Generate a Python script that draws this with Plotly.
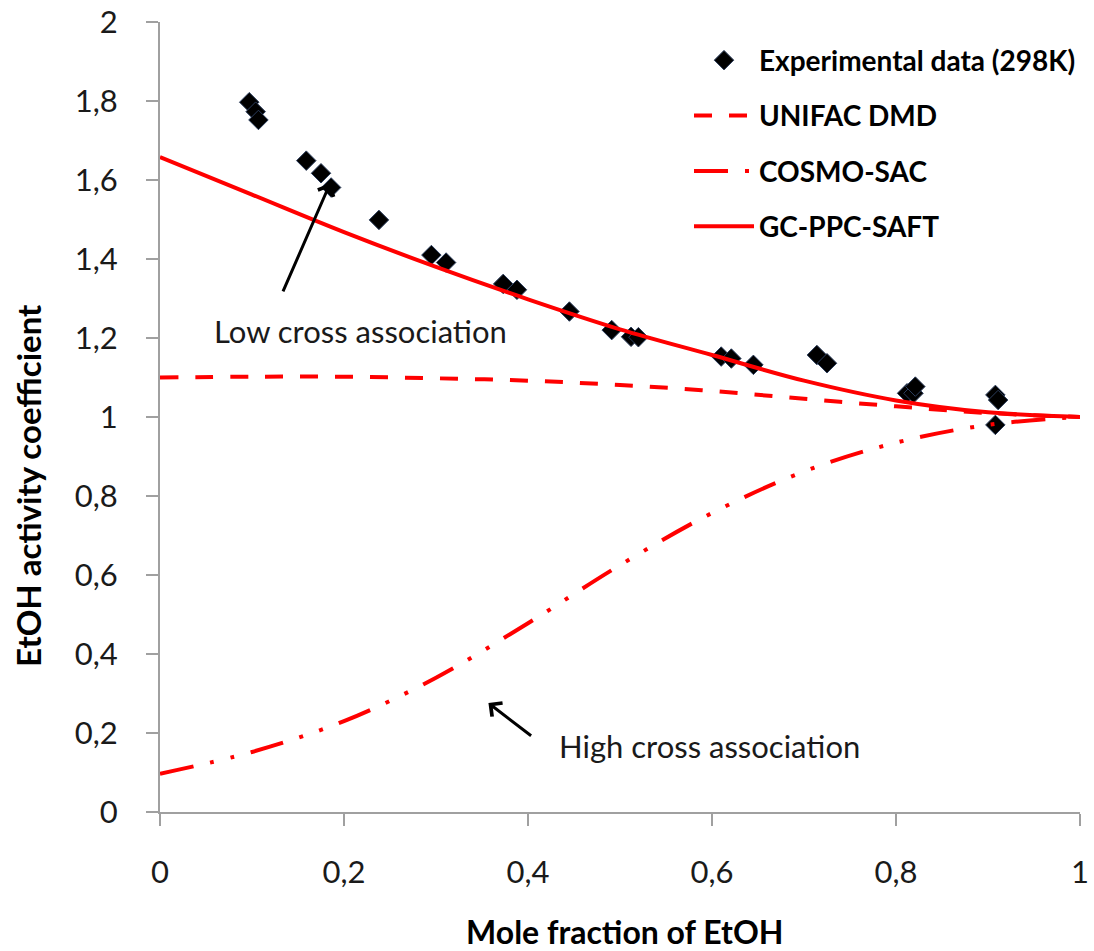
import plotly.graph_objects as go

# ---------------- data ----------------
exp_x = [0.097, 0.104, 0.107, 0.159, 0.175, 0.186, 0.238, 0.295, 0.311, 0.373,
         0.388, 0.445, 0.491, 0.512, 0.520, 0.610, 0.621, 0.645, 0.714, 0.725,
         0.812, 0.819, 0.821, 0.908, 0.911, 0.908]
exp_y = [1.797, 1.773, 1.752, 1.649, 1.617, 1.581, 1.499, 1.410, 1.391, 1.337,
         1.322, 1.267, 1.220, 1.203, 1.202, 1.153, 1.148, 1.132, 1.157, 1.136,
         1.060, 1.060, 1.077, 1.056, 1.043, 0.980]

model_x = [0.0, 0.1, 0.2, 0.3, 0.4, 0.5, 0.6, 0.7, 0.8, 0.9, 1.0]
unifac_y = [1.100, 1.102, 1.102, 1.098, 1.092, 1.081, 1.066, 1.046, 1.027, 1.010, 1.000]
cosmo_y = [0.097, 0.152, 0.230, 0.340, 0.478, 0.625, 0.757, 0.862, 0.935, 0.980, 1.000]
saft_y = [1.658, 1.563, 1.468, 1.380, 1.298, 1.222, 1.157, 1.092, 1.042, 1.012, 1.000]

x_tickvals = [0, 0.2, 0.4, 0.6, 0.8, 1]
x_ticktext = ["0", "0,2", "0,4", "0,6", "0,8", "1"]
y_tickvals = [0, 0.2, 0.4, 0.6, 0.8, 1, 1.2, 1.4, 1.6, 1.8, 2]
y_ticktext = ["0", "0,2", "0,4", "0,6", "0,8", "1", "1,2", "1,4", "1,6", "1,8", "2"]

FONT = "Lato"
RED = "#FF0000"
AXC = "#A0A0A0"
TXT = "#1a1a1a"

fig = go.Figure()
fig.add_trace(go.Scatter(
    x=exp_x, y=exp_y, mode="markers", name="Experimental data (298K)",
    legendgroup="a",
    marker=dict(symbol="diamond", size=15, color="black",
                line=dict(color="#2b3d5c", width=1))))
fig.add_trace(go.Scatter(
    x=model_x, y=unifac_y, mode="lines", name="UNIFAC DMD", legendgroup="b",
    line=dict(color=RED, width=4, dash="18px,17px", shape="spline")))
fig.add_trace(go.Scatter(
    x=model_x, y=cosmo_y, mode="lines", name="COSMO-SAC", legendgroup="c",
    line=dict(color=RED, width=4, dash="34px,17px,4px,17px,4px,17px", shape="spline")))
fig.add_trace(go.Scatter(
    x=model_x, y=saft_y, mode="lines", name="GC-PPC-SAFT", legendgroup="d",
    line=dict(color=RED, width=4, shape="spline")))

annotations = [
    dict(x=0.056, y=1.218, xref="x", yref="y", text="Low cross association",
         showarrow=False, xanchor="left", yanchor="middle",
         font=dict(family=FONT, size=31, color=TXT)),
    dict(x=0.185, y=1.592, xref="x", yref="y", ax=0.133, ay=1.314,
         axref="x", ayref="y", text="", showarrow=True, arrowhead=4,
         arrowsize=1.1, arrowwidth=3, arrowcolor="black"),
    dict(x=0.431, y=0.167, xref="x", yref="y", text="High cross association",
         showarrow=False, xanchor="left", yanchor="middle",
         font=dict(family=FONT, size=31, color=TXT)),
    dict(x=0.357, y=0.276, xref="x", yref="y", ax=0.405, ay=0.190,
         axref="x", ayref="y", text="", showarrow=True, arrowhead=4,
         arrowsize=1.1, arrowwidth=3, arrowcolor="black"),
    # axis titles
    dict(x=-0.1435, y=0.414, xref="paper", yref="paper",
         text="<b>EtOH activity coefficient</b>", textangle=-90,
         showarrow=False, xanchor="center", yanchor="middle",
         font=dict(family=FONT, size=33, color="black")),
    dict(x=0.505, y=-0.124, xref="paper", yref="paper",
         text="<b>Mole fraction of EtOH</b>",
         showarrow=False, xanchor="center", yanchor="top",
         font=dict(family=FONT, size=32, color="black")),
]

fig.update_layout(
    width=1094, height=951,
    margin=dict(l=160, r=14, t=22, b=139),
    paper_bgcolor="white", plot_bgcolor="white",
    separators=", ",
    font=dict(family=FONT, size=24, color="black"),
    showlegend=True,
    legend=dict(x=0.575, y=0.983, xanchor="left", yanchor="top",
                bgcolor="rgba(0,0,0,0)", tracegroupgap=16, itemwidth=60,
                font=dict(family=FONT, size=28, color="black", weight="bold")),
    annotations=annotations,
    xaxis=dict(range=[0, 1], tickvals=x_tickvals, ticktext=x_ticktext,
               automargin=False,
               showgrid=False, zeroline=False, showline=True, linecolor=AXC,
               linewidth=2, ticks="outside", ticklen=12, tickcolor=AXC,
               tickwidth=2, tickfont=dict(family=FONT, size=31, color=TXT),
               ticklabelstandoff=20),
    yaxis=dict(range=[0, 2], tickvals=y_tickvals, ticktext=y_ticktext,
               automargin=False,
               showgrid=False, zeroline=False, showline=True, linecolor=AXC,
               linewidth=2, ticks="outside", ticklen=12, tickcolor=AXC,
               tickwidth=2, tickfont=dict(family=FONT, size=31, color=TXT),
               ticklabelstandoff=22),
)

fig.write_html("out.html")
